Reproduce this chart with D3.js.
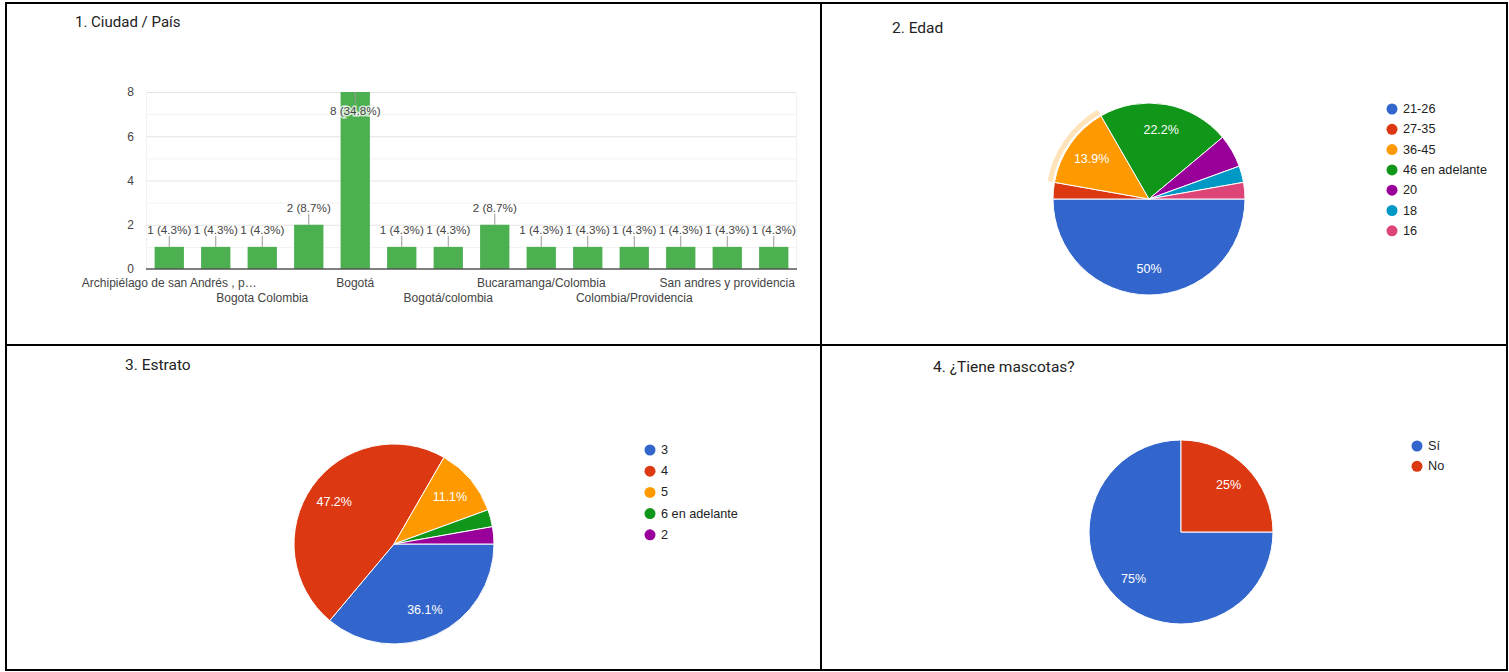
<!DOCTYPE html>
<html>
<head>
<meta charset="utf-8">
<script src="https://cdn.jsdelivr.net/npm/d3@7/dist/d3.min.js"></script>
<style>
  html, body { margin: 0; padding: 0; background: #fff; }
  svg { display: block; }
</style>
</head>
<body>
<svg id="chart" width="1509" height="672"></svg>
<script>
// ---------- DATA ----------
// Chart 1: Ciudad / País
const cityCategories = [
  "Archipiélago de san Andrés , p…",
  "Bogota",
  "Bogota Colombia",
  "Bogota, Colombia",
  "Bogotá",
  "Bogotá Colombia",
  "Bogotá/colombia",
  "Bucaramanga",
  "Bucaramanga/Colombia",
  "Colombia",
  "Colombia/Providencia",
  "Providencia",
  "San andres y providencia",
  "San Andrés"
];
const cityValues = [1, 1, 1, 2, 8, 1, 1, 2, 1, 1, 1, 1, 1, 1];
const cityYTicks = [0, 2, 4, 6, 8];

// Chart 2: Edad
const edadLabels = ["21-26", "27-35", "36-45", "46 en adelante", "20", "18", "16"];
const edadValues = [18, 1, 5, 8, 2, 1, 1];

// Chart 3: Estrato
const estratoLabels = ["3", "4", "5", "6 en adelante", "2"];
const estratoValues = [13, 17, 4, 1, 1];

// Chart 4: ¿Tiene mascotas?
const mascotasLabels = ["Sí", "No"];
const mascotasValues = [27, 9];

const palette = ["#3366cc", "#dc3912", "#ff9900", "#109618", "#990099", "#0099c6", "#dd4477"];
const titles = ["1. Ciudad / País", "2. Edad", "3. Estrato", "4. ¿Tiene mascotas?"];

// ---------- SETUP ----------
const svg = d3.select("#chart");
svg.append("rect").attr("width", 1509).attr("height", 672).attr("fill", "#fff");

const FONT = "'Liberation Sans', Arial, sans-serif";
const TFONT = "Roboto, 'Liberation Sans', Arial, sans-serif";

// ---------- Chart 1: bar ----------
(function () {
  const g = svg.append("g");
  const x = d3.scaleBand().domain(cityCategories).range([146, 797])
    .paddingInner(0.37).paddingOuter(0.185);
  const y = d3.scaleLinear().domain([0, 8]).range([269, 92]);
  const total = d3.sum(cityValues);

  // gridlines (minor + major)
  const gridVals = d3.range(0, 9, 1);
  g.selectAll("line.grid").data(gridVals.filter(v => v > 0)).join("line")
    .attr("x1", 146).attr("x2", 797)
    .attr("y1", d => y(d) + 0.5).attr("y2", d => y(d) + 0.5)
    .attr("stroke", d => d % 2 === 0 ? "#e3e3e3" : "#f2f2f2")
    .attr("stroke-width", 1);
  g.append("line").attr("x1", 146.5).attr("x2", 146.5).attr("y1", 92).attr("y2", 269)
    .attr("stroke", "#f2f2f2");
  g.append("line").attr("x1", 796.5).attr("x2", 796.5).attr("y1", 92).attr("y2", 269)
    .attr("stroke", "#f2f2f2");

  // y axis labels
  const yAxis = d3.axisLeft(y).tickValues(cityYTicks).tickSize(0).tickPadding(0);
  const ya = g.append("g").attr("transform", "translate(134,0)").call(yAxis);
  ya.select(".domain").remove();
  ya.selectAll("text").attr("font-family", FONT).attr("font-size", 12).attr("fill", "#444");

  // bars
  g.selectAll("rect.bar").data(cityCategories).join("rect")
    .attr("x", d => x(d))
    .attr("width", x.bandwidth())
    .attr("y", (d, i) => y(cityValues[i]))
    .attr("height", (d, i) => y(0) - y(cityValues[i]))
    .attr("fill", "#4caf50");

  // baseline
  g.append("line").attr("x1", 146).attr("x2", 797).attr("y1", 269).attr("y2", 269)
    .attr("stroke", "#555").attr("stroke-width", 1.3);

  // annotations with stems
  cityCategories.forEach((c, i) => {
    const cx = x(c) + x.bandwidth() / 2;
    const top = y(cityValues[i]);
    const above = top - 17 >= 92;
    const ly = above ? top - 17 : top + 18;
    const stemEnd = above ? top - 11 : top + 11;
    g.append("line").attr("x1", cx).attr("x2", cx).attr("y1", top).attr("y2", stemEnd)
      .attr("stroke", "#999").attr("stroke-width", 1);
    const pct = (cityValues[i] / total * 100).toFixed(1);
    g.append("text").attr("x", cx).attr("y", ly)
      .attr("text-anchor", "middle").attr("dominant-baseline", "central")
      .attr("font-family", FONT).attr("font-size", 11.7).attr("fill", "#444")
      .attr("stroke", above ? "none" : "#fff").attr("stroke-width", above ? 0 : 3)
      .attr("stroke-opacity", 0.75)
      .attr("paint-order", "stroke")
      .text(`${cityValues[i]} (${pct}%)`);
  });

  // category labels (every other, staggered)
  const xAxis = d3.axisBottom(x).tickSize(0).tickPadding(0)
    .tickFormat((d, i) => i % 2 === 0 ? d : "");
  const xa = g.append("g").attr("transform", "translate(0,269)").call(xAxis);
  xa.select(".domain").remove();
  xa.selectAll("text")
    .attr("font-family", FONT).attr("font-size", 12).attr("fill", "#444")
    .attr("dy", null)
    .attr("dominant-baseline", "central")
    .attr("y", (d, i) => (i % 4 === 0) ? 14 : 29);

  g.append("text").attr("x", 75).attr("y", 22).attr("dominant-baseline", "central")
    .attr("font-family", TFONT).attr("font-size", 15).attr("fill", "#222").text(titles[0]);
})();

// ---------- Pie helper ----------
function drawPie(opts) {
  const { labels, values, cx, cy, r, legendX, legendY, legendStep, highlight, title, titleX, titleY } = opts;
  const g = svg.append("g");
  const total = d3.sum(values);
  const pie = d3.pie().sort(null).value(d => d)
    .startAngle(Math.PI / 2).endAngle(Math.PI / 2 + 2 * Math.PI);
  const arcs = pie(values);
  const arc = d3.arc().innerRadius(0).outerRadius(r);
  const pg = g.append("g").attr("transform", `translate(${cx},${cy})`);

  if (highlight != null) {
    const h = arcs[highlight];
    pg.append("path")
      .attr("d", d3.arc().innerRadius(r + 2).outerRadius(r + 7)(h))
      .attr("fill", palette[highlight]).attr("fill-opacity", 0.27);
  }

  pg.selectAll("path.slice").data(arcs).join("path")
    .attr("d", arc)
    .attr("fill", (d, i) => palette[i])
    .attr("stroke", "#fff").attr("stroke-width", 1);

  const labelArc = d3.arc().innerRadius(r * 0.73).outerRadius(r * 0.73);
  pg.selectAll("text.lbl").data(arcs.filter(d => d.value / total >= 0.1)).join("text")
    .attr("transform", d => `translate(${labelArc.centroid(d)})`)
    .attr("text-anchor", "middle").attr("dominant-baseline", "central")
    .attr("font-family", FONT).attr("font-size", 12.5).attr("fill", "#fff")
    .text(d => {
      const p = d.value / total * 100;
      return (Math.round(p * 10) / 10) + "%";
    });

  const lg = g.append("g");
  labels.forEach((l, i) => {
    const yy = legendY + i * legendStep;
    lg.append("circle").attr("cx", legendX).attr("cy", yy).attr("r", 5.5).attr("fill", palette[i]);
    lg.append("text").attr("x", legendX + 11).attr("y", yy).attr("dominant-baseline", "central")
      .attr("font-family", FONT).attr("font-size", 12.7).attr("fill", "#222").text(l);
  });

  g.append("text").attr("x", titleX).attr("y", titleY).attr("dominant-baseline", "central")
    .attr("font-family", TFONT).attr("font-size", 15.5).attr("fill", "#222").text(title);
}

drawPie({ labels: edadLabels, values: edadValues, cx: 1149, cy: 199, r: 96,
  legendX: 1392, legendY: 109, legendStep: 20.3, highlight: 2,
  title: titles[1], titleX: 892, titleY: 28 });
drawPie({ labels: estratoLabels, values: estratoValues, cx: 394, cy: 544, r: 100,
  legendX: 650, legendY: 450, legendStep: 21.2, highlight: null,
  title: titles[2], titleX: 125, titleY: 365 });
drawPie({ labels: mascotasLabels, values: mascotasValues, cx: 1181, cy: 532, r: 92,
  legendX: 1417, legendY: 446, legendStep: 20.3, highlight: null,
  title: titles[3], titleX: 933, titleY: 367 });

// ---------- Frame ----------
const fr = svg.append("g").attr("stroke", "#000").attr("stroke-width", 2).attr("fill", "none");
fr.append("rect").attr("x", 6).attr("y", 3).attr("width", 1501).attr("height", 667);
fr.append("line").attr("x1", 821).attr("x2", 821).attr("y1", 3).attr("y2", 670);
fr.append("line").attr("x1", 6).attr("x2", 1507).attr("y1", 345).attr("y2", 345);
</script>
</body>
</html>
